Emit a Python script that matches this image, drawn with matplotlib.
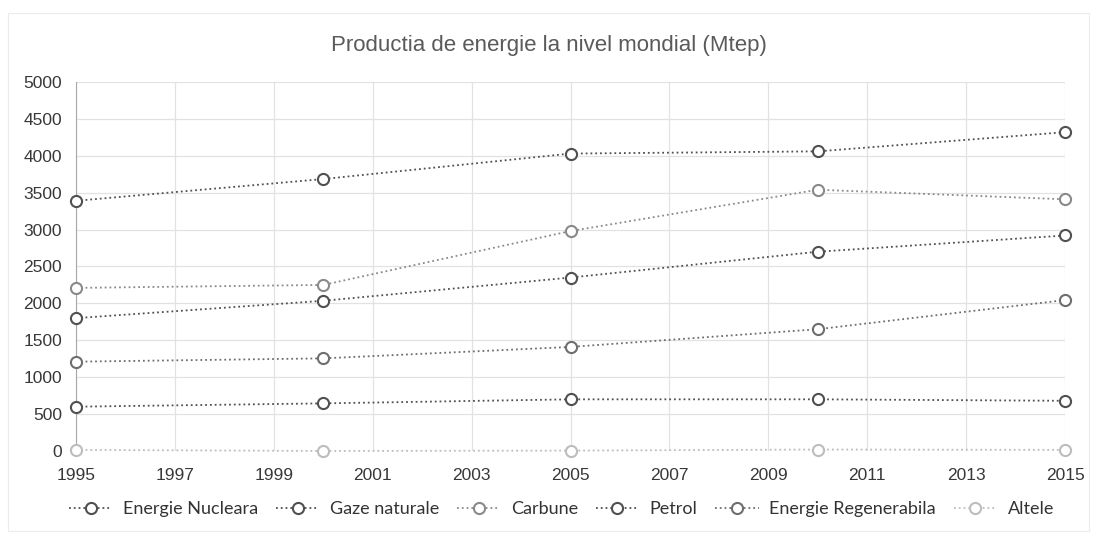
import matplotlib
matplotlib.use("Agg")
import matplotlib.pyplot as plt
from matplotlib.patches import Rectangle

years = [1995, 2000, 2005, 2010, 2015]
nucleara = [600, 645, 700, 700, 680]
gaze = [1800, 2035, 2350, 2700, 2920]
carbune = [2210, 2250, 2980, 3540, 3410]
petrol = [3390, 3685, 4030, 4060, 4320]
regenerabila = [1210, 1255, 1410, 1650, 2045]
altele = [15, 0, 5, 20, 15]

labels = ["Energie Nucleara", "Gaze naturale", "Carbune", "Petrol",
          "Energie Regenerabila", "Altele"]
series = [nucleara, gaze, carbune, petrol, regenerabila, altele]
colors = ["#505050", "#505050", "#8a8a8a", "#505050", "#6e6e6e", "#bdbdbd"]

plt.rcParams['font.family'] = ['Liberation Sans', 'DejaVu Sans']

fig = plt.figure(figsize=(10.98, 5.39), dpi=100)
ax = fig.add_axes([0.0692, 0.1633, 0.9008, 0.6846])

for vals, lab, col in zip(series, labels, colors):
    ax.plot(years, vals, linestyle=':', linewidth=1.3, color=col,
            marker='o', markersize=8, markerfacecolor='white',
            markeredgecolor=col, markeredgewidth=1.5, label=lab,
            clip_on=False, zorder=3)

ax.set_xlim(1995, 2015)
ax.set_ylim(0, 5000)
ax.set_xticks(range(1995, 2016, 2))
ax.set_yticks(range(0, 5001, 500))
ax.tick_params(length=0, labelsize=12.5, colors='#383838')
ax.tick_params(axis='x', pad=12)
ax.tick_params(axis='y', pad=10)
ax.grid(True, color='#e2e2e2', linewidth=0.9)
ax.set_axisbelow(True)
for s in ['top', 'right', 'bottom']:
    ax.spines[s].set_visible(False)
ax.spines['left'].set_color('#a8a8a8')

fig.text(0.5, 0.9165, "Productia de energie la nivel mondial (Mtep)",
         ha='center', va='center', fontsize=16, color='#5a5a5a')

ax.legend(loc='center', bbox_to_anchor=(0.491, -0.157), ncol=6,
          frameon=False, handlelength=2.4, handletextpad=0.6,
          columnspacing=0.97, prop={'family': 'Lato', 'size': 13},
          labelcolor='#333333')

fig.patches.append(Rectangle((0.007, 0.015), 0.985, 0.96,
                             transform=fig.transFigure, fill=False,
                             edgecolor='#ececec', linewidth=0.8))

fig.savefig("out.png", dpi=100)
